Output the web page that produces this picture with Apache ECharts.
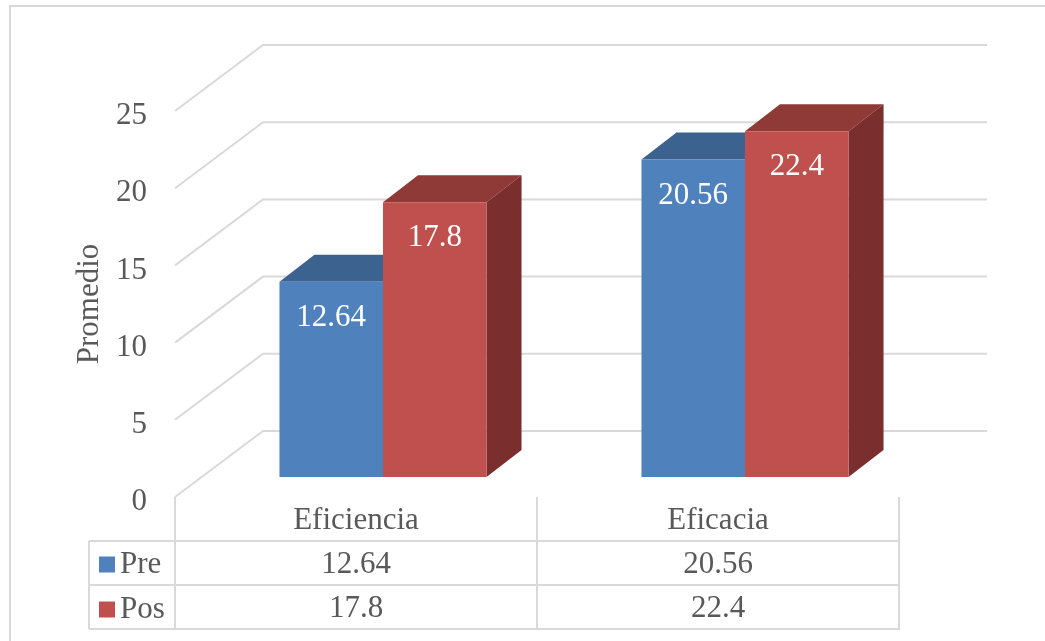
<!DOCTYPE html>
<html>
<head>
<meta charset="utf-8">
<script src="https://cdn.jsdelivr.net/npm/echarts@6/dist/echarts.min.js"></script>
<style>
  html, body { margin: 0; padding: 0; background: #fff; }
  #chart { width: 1045px; height: 641px; }
</style>
</head>
<body>
<div id="chart"></div>
<script>
// Chart data
const categories = ['Eficiencia', 'Eficacia'];
const preValues = [12.64, 20.56];
const posValues = [17.8, 22.4];
const yTicks = [0, 5, 10, 15, 20, 25];

// Styling constants
const FONT = 'Liberation Serif';
const FS = 31;
const TEXT = '#595959';
const LINE = '#D9D9D9';
const WALL_DX = 88, WALL_DY = -66;      // depth of the side wall / floor
const FRONT_DX = 27, FRONT_DY = -20;    // offset of the bars' front face
const BAR_DX = 35, BAR_DY = -27;        // depth of each bar
const BAR_RATIO = 0.286;                // bar width as share of category band
const ROW_H = 44;

const colors = {
  Pre: { front: '#4F81BD', top: '#3C6390', side: '#35567E' },
  Pos: { front: '#C0504D', top: '#903A38', side: '#7A2F2E' }
};

const chart = echarts.init(document.getElementById('chart'), null, { renderer: 'canvas' });

function wallItem(params, api) {
  const cs = params.coordSys;
  const y = api.coord([0, api.value(1)])[1];
  const x0 = cs.x;
  return {
    type: 'polyline',
    shape: { points: [[x0, y], [x0 + WALL_DX, y + WALL_DY], [x0 + cs.width + WALL_DX, y + WALL_DY]] },
    style: { stroke: LINE, lineWidth: 2, fill: null },
    silent: true
  };
}

function barRenderer(name, isLeft) {
  const c = colors[name];
  return function (params, api) {
    const idx = api.value(0);
    const v = api.value(1);
    const p = api.coord([idx, v]);
    const p0 = api.coord([idx, 0]);
    const band = api.size([1, 0])[0];
    const bw = band * BAR_RATIO;
    const left = (isLeft ? p[0] - bw : p[0]) + FRONT_DX;
    const top = p[1] + FRONT_DY;
    const bottom = p0[1] + FRONT_DY;
    const right = left + bw;
    return {
      type: 'group',
      children: [
        {
          type: 'polygon',
          shape: { points: [[left, top], [right, top], [right + BAR_DX, top + BAR_DY], [left + BAR_DX, top + BAR_DY]] },
          style: { fill: c.top }
        },
        {
          type: 'polygon',
          shape: { points: [[right, top], [right + BAR_DX, top + BAR_DY], [right + BAR_DX, bottom + BAR_DY], [right, bottom]] },
          style: { fill: c.side }
        },
        {
          type: 'rect',
          shape: { x: left, y: top, width: bw, height: bottom - top },
          style: { fill: c.front }
        },
        {
          type: 'text',
          x: left + bw / 2,
          y: top + 36,
          style: {
            text: String(v),
            fill: '#FFFFFF',
            fontSize: FS,
            fontFamily: FONT,
            align: 'center',
            verticalAlign: 'middle'
          }
        }
      ]
    };
  };
}

const gridLeft = 175, gridRight = 146, gridTop = 111, gridBottom = 144;
const floorY = 641 - gridBottom;

const tableLines = [];
for (let k = 1; k <= 3; k++) {
  tableLines.push({
    type: 'line',
    shape: { x1: 89, y1: floorY + ROW_H * k, x2: 1045 - gridRight + 1, y2: floorY + ROW_H * k },
    style: { stroke: LINE, lineWidth: 2 }
  });
}
tableLines.push({
  type: 'line',
  shape: { x1: 89, y1: floorY + ROW_H, x2: 89, y2: floorY + ROW_H * 3 },
  style: { stroke: LINE, lineWidth: 2 }
});

const labelStyle = { color: TEXT, fontSize: FS, fontFamily: FONT };

const option = {
  backgroundColor: '#FFFFFF',
  animation: false,
  textStyle: { fontFamily: FONT },
  grid: { left: gridLeft, right: gridRight, top: gridTop, bottom: gridBottom },
  legend: {
    orient: 'vertical',
    left: 99,
    top: floorY + ROW_H + 8,
    padding: 0,
    itemWidth: 16,
    itemHeight: 16,
    itemGap: 14,
    icon: 'rect',
    data: ['Pre', 'Pos'],
    textStyle: { color: TEXT, fontSize: FS, fontFamily: FONT, lineHeight: 30 }
  },
  xAxis: [
    {
      type: 'category',
      data: categories,
      boundaryGap: true,
      axisLine: { show: false },
      axisTick: { show: true, length: ROW_H * 3, lineStyle: { color: LINE, width: 2 } },
      axisLabel: Object.assign({ margin: 8 }, labelStyle),
      splitLine: { show: false }
    },
    {
      type: 'category',
      data: categories,
      position: 'bottom',
      offset: ROW_H,
      axisLine: { show: false },
      axisTick: { show: false },
      axisLabel: Object.assign({ margin: 8, formatter: (val, i) => String(preValues[i]) }, labelStyle)
    },
    {
      type: 'category',
      data: categories,
      position: 'bottom',
      offset: ROW_H * 2,
      axisLine: { show: false },
      axisTick: { show: false },
      axisLabel: Object.assign({ margin: 8, formatter: (val, i) => String(posValues[i]) }, labelStyle)
    }
  ],
  yAxis: {
    type: 'value',
    min: 0,
    max: 25,
    interval: 5,
    name: 'Promedio',
    nameLocation: 'middle',
    nameRotate: 90,
    nameGap: 69,
    nameTextStyle: labelStyle,
    axisLine: { show: false },
    axisTick: { show: false },
    splitLine: { show: false },
    axisLabel: Object.assign({
      margin: 28,
      formatter: val => '{t|' + val + '}',
      rich: { t: { color: TEXT, fontSize: FS, fontFamily: FONT, padding: [10, 0, 0, 0] } }
    }, labelStyle)
  },
  series: [
    {
      type: 'custom',
      name: 'wall',
      silent: true,
      z: 1,
      renderItem: wallItem,
      data: yTicks.map(t => [0, t])
    },
    {
      type: 'custom',
      name: 'Pre',
      z: 2,
      itemStyle: { color: colors.Pre.front },
      renderItem: barRenderer('Pre', true),
      data: preValues.map((v, i) => [i, v])
    },
    {
      type: 'custom',
      name: 'Pos',
      z: 3,
      itemStyle: { color: colors.Pos.front },
      renderItem: barRenderer('Pos', false),
      data: posValues.map((v, i) => [i, v])
    }
  ],
  graphic: [
    {
      type: 'rect',
      shape: { x: 10, y: 6, width: 1060, height: 660 },
      style: { fill: null, stroke: LINE, lineWidth: 2 },
      silent: true,
      z: -1
    }
  ].concat(tableLines)
};

chart.setOption(option);
</script>
</body>
</html>
